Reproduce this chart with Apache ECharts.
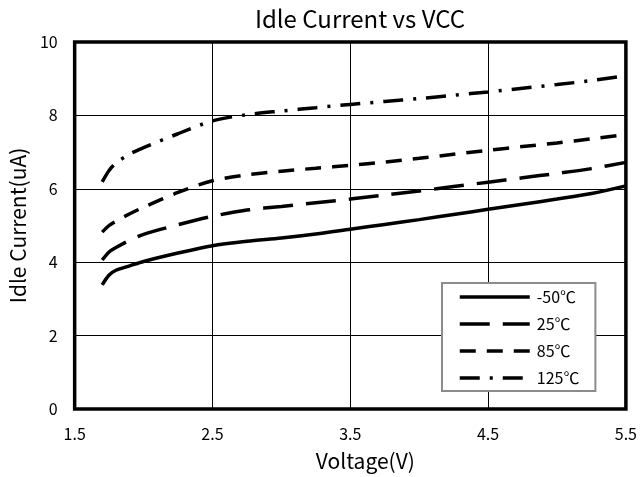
<!DOCTYPE html>
<html><head><meta charset="utf-8">
<script src="https://cdn.jsdelivr.net/npm/echarts@6/dist/echarts.min.js"></script>
<style>html,body{margin:0;padding:0;background:#fff}#c{width:640px;height:477px}</style>
</head><body><div id="c"></div>
<script>
const voltage = [1.7, 1.75, 1.8, 1.9, 2.0, 2.25, 2.5, 2.75, 3.0, 3.25, 3.5, 3.75, 4.0, 4.25, 4.5, 4.75, 5.0, 5.25, 5.5];
const seriesNames = ['-50℃', '25℃', '85℃', '125℃'];
const valM50 = [3.38, 3.65, 3.78, 3.9, 4.02, 4.25, 4.45, 4.57, 4.66, 4.77, 4.9, 5.03, 5.16, 5.3, 5.44, 5.58, 5.72, 5.87, 6.08];
const val25  = [4.06, 4.28, 4.4, 4.6, 4.76, 5.02, 5.25, 5.42, 5.52, 5.62, 5.72, 5.83, 5.94, 6.06, 6.18, 6.3, 6.42, 6.55, 6.72];
const val85  = [4.82, 5.0, 5.12, 5.32, 5.5, 5.9, 6.22, 6.38, 6.48, 6.56, 6.64, 6.73, 6.83, 6.94, 7.05, 7.15, 7.25, 7.36, 7.48];
const val125 = [6.19, 6.5, 6.7, 6.95, 7.12, 7.5, 7.85, 8.02, 8.12, 8.21, 8.3, 8.38, 8.46, 8.55, 8.64, 8.74, 8.84, 8.95, 9.08];
const xTicks = {min: 1.5, max: 5.5, interval: 1};
const yTicks = {min: 0, max: 10, interval: 2};

const allVals = [valM50, val25, val85, val125];
const dashTypes = ['solid', [30, 13], [16, 11], [20, 10, 3, 10]];
const font = '"Noto Sans CJK SC", "Noto Sans", sans-serif';

const chart = echarts.init(document.getElementById('c'));
chart.setOption({
  animation: false,
  textStyle: {fontFamily: font},
  title: {
    text: 'Idle Current vs VCC', left: 355, top: 2, textAlign: 'center',
    textStyle: {fontSize: 24, fontWeight: 'normal', color: '#000', fontFamily: font}
  },
  grid: {left: 70, right: 13, top: 42, bottom: 68, show: true, borderColor: '#000', borderWidth: 3.5},
  legend: {
    data: seriesNames, orient: 'vertical', left: 442, top: 283,
    itemWidth: 70, itemHeight: 16, itemGap: 11,
    padding: [6, 16, 5, 16], borderColor: '#8c8c8c', borderWidth: 2, backgroundColor: '#fff',
    itemStyle: {opacity: 0},
    lineStyle: {width: 3.5},
    textStyle: {fontSize: 16, color: '#000', fontFamily: font, padding: [0, 0, 0, 2]}
  },
  xAxis: {
    type: 'value', min: xTicks.min, max: xTicks.max, interval: xTicks.interval,
    name: 'Voltage(V)', nameLocation: 'middle', nameGap: 42,
    nameTextStyle: {fontSize: 21, color: '#000', fontFamily: font, padding: [0, 0, 0, 30]},
    axisLine: {show: false}, axisTick: {show: false},
    axisLabel: {color: '#000', fontSize: 16, margin: 17, fontFamily: font, formatter: v => v.toFixed(1)},
    splitLine: {show: true, lineStyle: {color: '#000', width: 1}}
  },
  yAxis: {
    type: 'value', min: yTicks.min, max: yTicks.max, interval: yTicks.interval,
    name: 'Idle Current(uA)', nameLocation: 'middle', nameGap: 36,
    nameTextStyle: {fontSize: 21, color: '#000', fontFamily: font},
    axisLine: {show: false}, axisTick: {show: false},
    axisLabel: {color: '#000', fontSize: 16, margin: 17, fontFamily: font},
    splitLine: {show: true, lineStyle: {color: '#000', width: 1}}
  },
  series: seriesNames.map((n, i) => ({
    name: n, type: 'line', smooth: 0.3, symbol: 'none',
    data: voltage.map((v, j) => [v, allVals[i][j]]),
    lineStyle: {color: '#000', width: 3.5, type: dashTypes[i]},
    itemStyle: {color: '#000'}
  }))
});
</script></body></html>
